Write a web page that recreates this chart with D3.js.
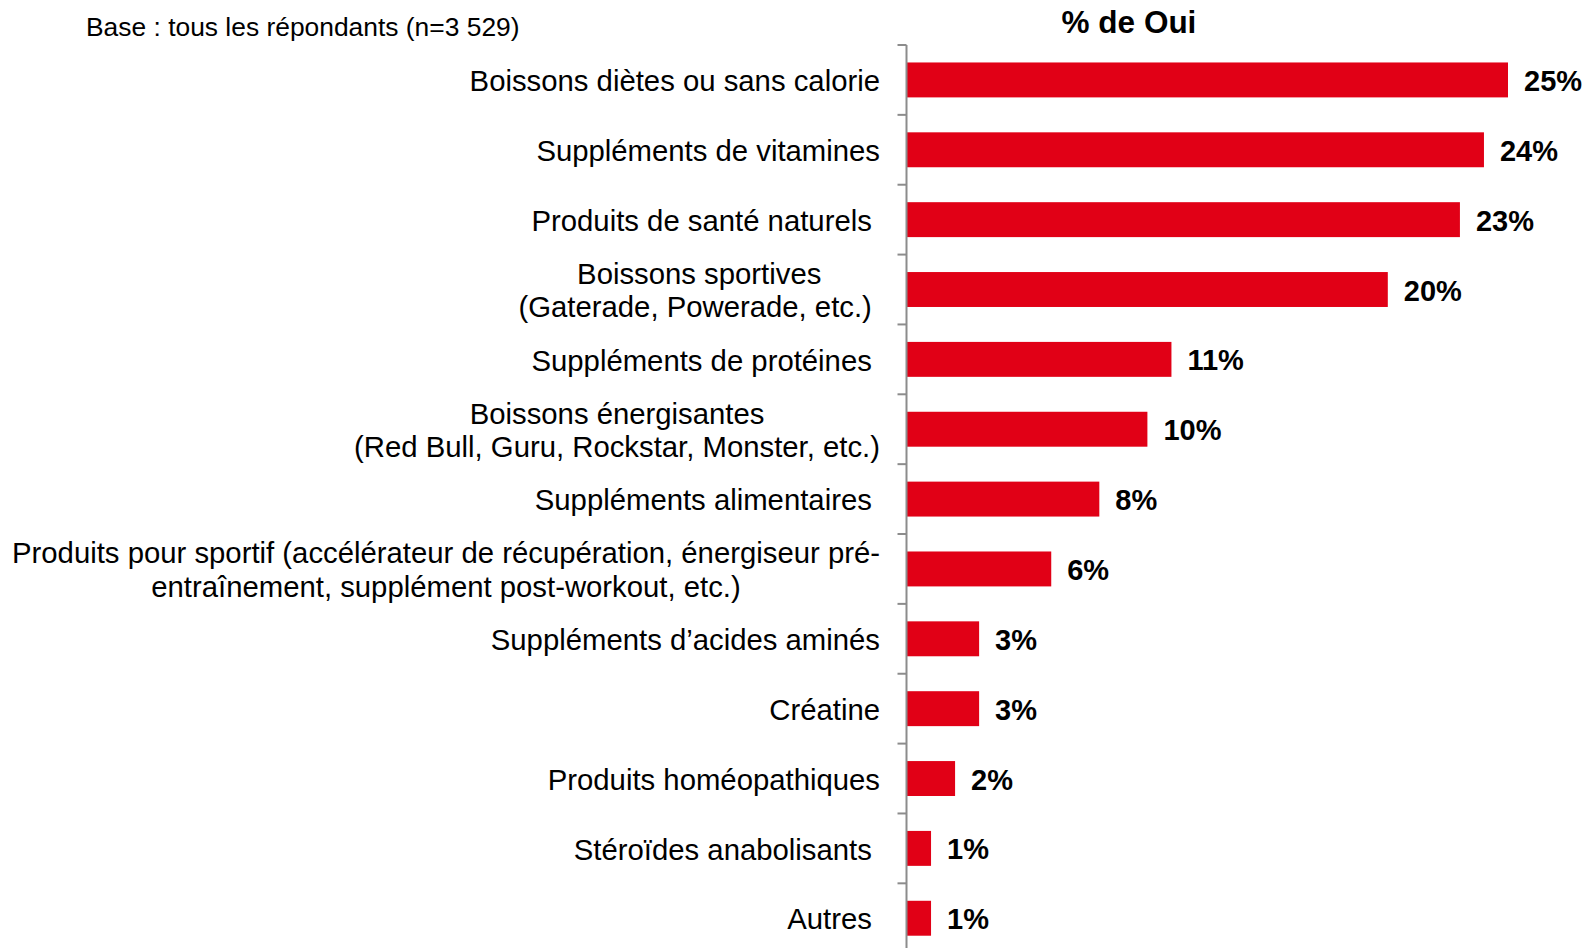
<!DOCTYPE html>
<html>
<head>
<meta charset="utf-8">
<script src="https://cdn.jsdelivr.net/npm/d3@7"></script>
<style>
  html, body { margin: 0; padding: 0; background: #ffffff; }
  svg { display: block; }
  text { font-family: "Liberation Sans", Arial, Helvetica, sans-serif; fill: #000; }
</style>
</head>
<body>
<svg id="chart" width="1588" height="948"></svg>
<script>
// Product categories (line breaks marked with \n, trailing spaces kept as in the labels)
const categories = [
  "Boissons diètes ou sans calorie",
  "Suppléments de vitamines",
  "Produits de santé naturels\u00a0",
  "Boissons sportives\n(Gaterade, Powerade, etc.)\u00a0",
  "Suppléments de protéines\u00a0",
  "Boissons énergisantes\n(Red Bull, Guru, Rockstar, Monster, etc.)",
  "Suppléments alimentaires\u00a0",
  "Produits pour sportif (accélérateur de récupération, énergiseur pré-\nentraînement, supplément post-workout, etc.)",
  "Suppléments d’acides aminés",
  "Créatine",
  "Produits homéopathiques",
  "Stéroïdes anabolisants\u00a0",
  "Autres\u00a0"
];
// Share answering "Oui" (%)
const values = [25, 24, 23, 20, 11, 10, 8, 6, 3, 3, 2, 1, 1];
const chartTitle = "% de Oui";
const baseNote = "Base : tous les répondants (n=3 529)";

const svg = d3.select("#chart");
const axisX = 906.5;
const plotTop = 45;
const stepPx = 69.86;

const y = d3.scaleBand()
  .domain(d3.range(categories.length))
  .range([plotTop, plotTop + stepPx * categories.length])
  .paddingInner(0.5)
  .paddingOuter(0.25);

const x = d3.scaleLinear().domain([0, 25]).range([907, 1508]);

// Bars
svg.append("g").selectAll("rect")
  .data(values)
  .join("rect")
  .attr("x", x(0))
  .attr("y", (d, i) => y(i))
  .attr("width", d => x(d) - x(0))
  .attr("height", y.bandwidth())
  .attr("fill", "#e10016");

// Axis line and boundary ticks
const axisG = svg.append("g").attr("stroke", "#8c8c8c").attr("stroke-width", 2);
axisG.append("line")
  .attr("x1", axisX).attr("x2", axisX)
  .attr("y1", plotTop).attr("y2", 948);
axisG.selectAll("line.tick")
  .data(d3.range(categories.length + 1))
  .join("line")
  .attr("class", "tick")
  .attr("x1", axisX - 9).attr("x2", axisX)
  .attr("y1", i => plotTop + i * y.step())
  .attr("y2", i => plotTop + i * y.step());

// Category labels: each block right-aligned, lines centred within the block
const labelFs = 29.3;
const lineH = 33.4;
const labelRight = 880;
const labelG = svg.append("g").attr("font-size", labelFs);
categories.forEach((cat, i) => {
  const lines = cat.split("\n");
  const cy = y(i) + y.bandwidth() / 2;
  const g = labelG.append("g");
  const texts = lines.map((ln, k) =>
    g.append("text")
      .style("white-space", "pre")
      .attr("y", cy + (k - (lines.length - 1) / 2) * lineH + 0.38 * labelFs)
      .text(ln)
  );
  const widths = texts.map(t => t.node().getComputedTextLength());
  const maxW = d3.max(widths);
  texts.forEach(t => t.attr("text-anchor", "middle").attr("x", labelRight - maxW / 2));
});

// Value labels
svg.append("g").selectAll("text")
  .data(values)
  .join("text")
  .attr("x", d => x(d) + 16)
  .attr("y", (d, i) => y(i) + y.bandwidth() / 2 + 0.38 * 29)
  .attr("font-size", 29)
  .attr("font-weight", "bold")
  .text(d => d + "%");

// Title
svg.append("text")
  .attr("x", 1129)
  .attr("y", 33)
  .attr("text-anchor", "middle")
  .attr("font-size", 31.5)
  .attr("font-weight", "bold")
  .text(chartTitle);

// Base note
svg.append("text")
  .attr("x", 86)
  .attr("y", 36)
  .attr("font-size", 26.4)
  .text(baseNote);
</script>
</body>
</html>
